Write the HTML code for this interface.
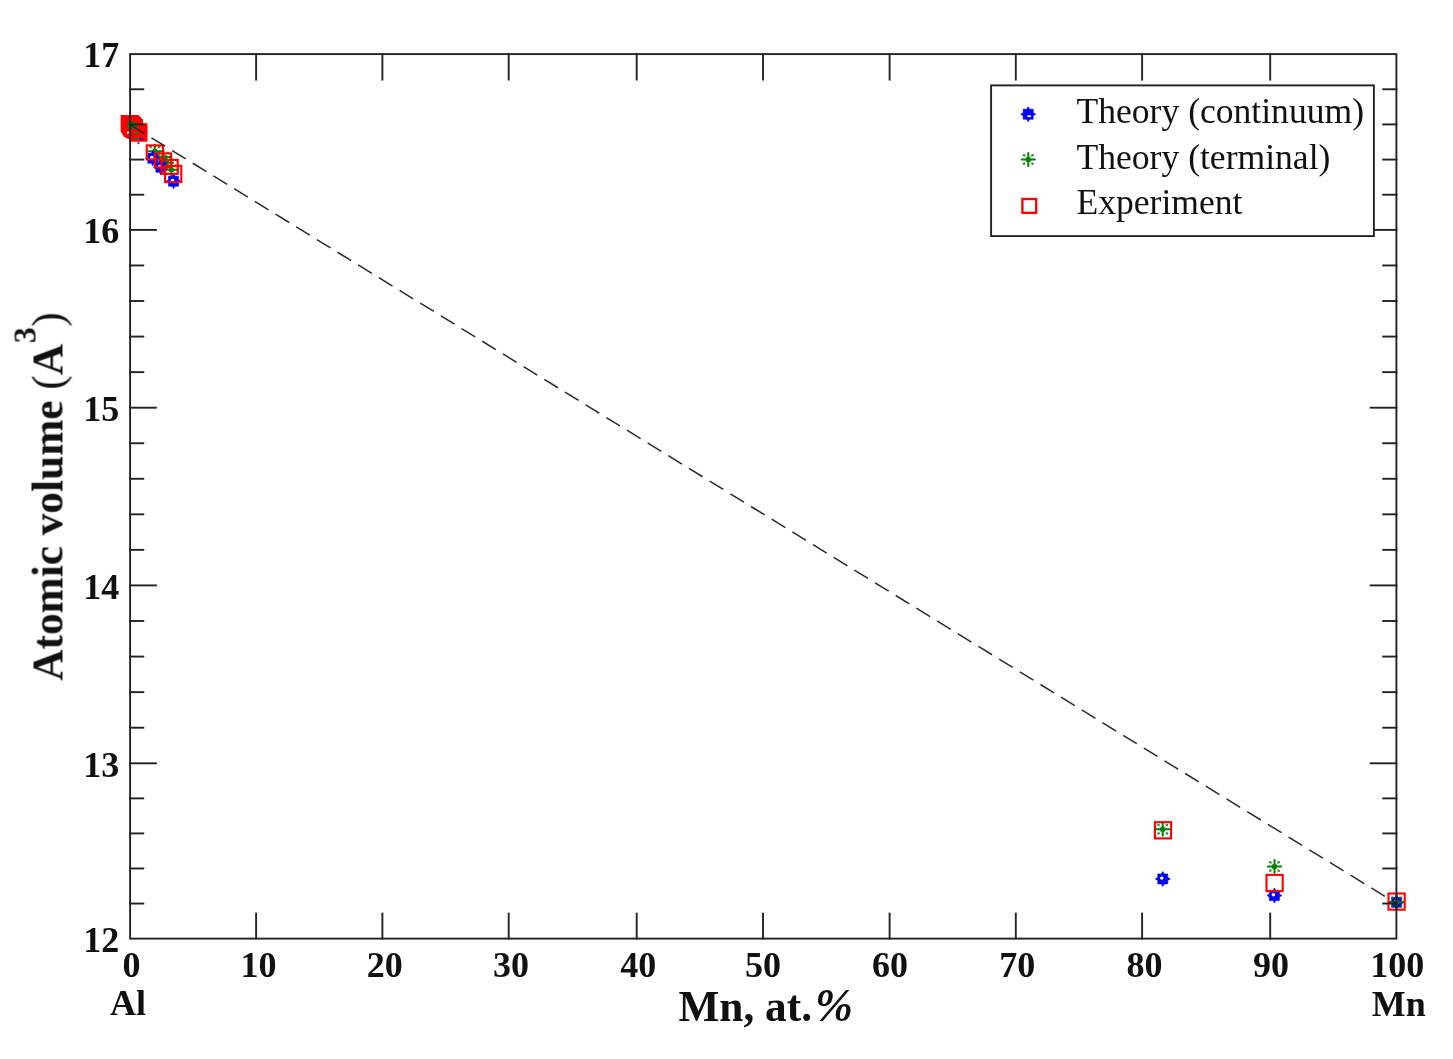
<!DOCTYPE html><html><head><meta charset="utf-8"><style>html,body{margin:0;padding:0;background:#fff;overflow:hidden}svg{display:block}text{font-family:"Liberation Serif",serif;fill:#111}</style></head><body>
<svg width="1453" height="1059" viewBox="0 0 1453 1059">
<defs><filter id="bl" filterUnits="userSpaceOnUse" x="0" y="0" width="1453" height="1059" color-interpolation-filters="sRGB"><feGaussianBlur stdDeviation="0.5"/></filter></defs>
<rect width="1453" height="1059" fill="#fff"/>
<g filter="url(#bl)">
<g stroke="#008000" stroke-width="2.0" stroke-linecap="round"><line x1="148.20" y1="151.30" x2="161.40" y2="151.30"/><line x1="154.80" y1="144.70" x2="154.80" y2="157.90"/></g><g stroke="#008000" stroke-width="0.7" opacity="0.6"><line x1="150.55" y1="147.05" x2="159.05" y2="155.55"/><line x1="150.55" y1="155.55" x2="159.05" y2="147.05"/></g><g fill="#008000" opacity="0.8"><circle cx="150.55" cy="147.05" r="1.3"/><circle cx="150.55" cy="155.55" r="1.3"/><circle cx="159.05" cy="147.05" r="1.3"/><circle cx="159.05" cy="155.55" r="1.3"/></g><circle cx="154.80" cy="151.30" r="2.6" fill="#008000"/>
<g stroke="#008000" stroke-width="2.0" stroke-linecap="round"><line x1="156.90" y1="157.00" x2="170.10" y2="157.00"/><line x1="163.50" y1="150.40" x2="163.50" y2="163.60"/></g><g stroke="#008000" stroke-width="0.7" opacity="0.6"><line x1="159.25" y1="152.75" x2="167.75" y2="161.25"/><line x1="159.25" y1="161.25" x2="167.75" y2="152.75"/></g><g fill="#008000" opacity="0.8"><circle cx="159.25" cy="152.75" r="1.3"/><circle cx="159.25" cy="161.25" r="1.3"/><circle cx="167.75" cy="152.75" r="1.3"/><circle cx="167.75" cy="161.25" r="1.3"/></g><circle cx="163.50" cy="157.00" r="2.6" fill="#008000"/>
<g stroke="#008000" stroke-width="2.0" stroke-linecap="round"><line x1="159.90" y1="162.80" x2="173.10" y2="162.80"/><line x1="166.50" y1="156.20" x2="166.50" y2="169.40"/></g><g stroke="#008000" stroke-width="0.7" opacity="0.6"><line x1="162.25" y1="158.55" x2="170.75" y2="167.05"/><line x1="162.25" y1="167.05" x2="170.75" y2="158.55"/></g><g fill="#008000" opacity="0.8"><circle cx="162.25" cy="158.55" r="1.3"/><circle cx="162.25" cy="167.05" r="1.3"/><circle cx="170.75" cy="158.55" r="1.3"/><circle cx="170.75" cy="167.05" r="1.3"/></g><circle cx="166.50" cy="162.80" r="2.6" fill="#008000"/>
<g stroke="#008000" stroke-width="2.0" stroke-linecap="round"><line x1="164.90" y1="169.80" x2="178.10" y2="169.80"/><line x1="171.50" y1="163.20" x2="171.50" y2="176.40"/></g><g stroke="#008000" stroke-width="0.7" opacity="0.6"><line x1="167.25" y1="165.55" x2="175.75" y2="174.05"/><line x1="167.25" y1="174.05" x2="175.75" y2="165.55"/></g><g fill="#008000" opacity="0.8"><circle cx="167.25" cy="165.55" r="1.3"/><circle cx="167.25" cy="174.05" r="1.3"/><circle cx="175.75" cy="165.55" r="1.3"/><circle cx="175.75" cy="174.05" r="1.3"/></g><circle cx="171.50" cy="169.80" r="2.6" fill="#008000"/>
<g stroke="#008000" stroke-width="2.0" stroke-linecap="round"><line x1="1156.10" y1="829.20" x2="1169.30" y2="829.20"/><line x1="1162.70" y1="822.60" x2="1162.70" y2="835.80"/></g><g stroke="#008000" stroke-width="0.7" opacity="0.6"><line x1="1158.45" y1="824.95" x2="1166.95" y2="833.45"/><line x1="1158.45" y1="833.45" x2="1166.95" y2="824.95"/></g><g fill="#008000" opacity="0.8"><circle cx="1158.45" cy="824.95" r="1.3"/><circle cx="1158.45" cy="833.45" r="1.3"/><circle cx="1166.95" cy="824.95" r="1.3"/><circle cx="1166.95" cy="833.45" r="1.3"/></g><circle cx="1162.70" cy="829.20" r="2.6" fill="#008000"/>
<g stroke="#008000" stroke-width="2.0" stroke-linecap="round"><line x1="1267.90" y1="866.50" x2="1281.10" y2="866.50"/><line x1="1274.50" y1="859.90" x2="1274.50" y2="873.10"/></g><g stroke="#008000" stroke-width="0.7" opacity="0.6"><line x1="1270.25" y1="862.25" x2="1278.75" y2="870.75"/><line x1="1270.25" y1="870.75" x2="1278.75" y2="862.25"/></g><g fill="#008000" opacity="0.8"><circle cx="1270.25" cy="862.25" r="1.3"/><circle cx="1270.25" cy="870.75" r="1.3"/><circle cx="1278.75" cy="862.25" r="1.3"/><circle cx="1278.75" cy="870.75" r="1.3"/></g><circle cx="1274.50" cy="866.50" r="2.6" fill="#008000"/>
<polygon points="147.80,153.30 151.30,153.30 152.80,150.80 154.30,153.30 157.80,153.30 157.80,156.80 160.30,158.30 157.80,159.80 157.80,163.30 154.30,163.30 152.80,165.80 151.30,163.30 147.80,163.30 147.80,159.80 145.30,158.30 147.80,156.80" fill="#0000ff" stroke="#0000ff" stroke-width="0.6" stroke-linejoin="round"/><ellipse cx="151.80" cy="157.50" rx="1.80" ry="1.70" fill="#fff"/>
<polygon points="155.80,162.20 159.30,162.20 160.80,159.70 162.30,162.20 165.80,162.20 165.80,165.70 168.30,167.20 165.80,168.70 165.80,172.20 162.30,172.20 160.80,174.70 159.30,172.20 155.80,172.20 155.80,168.70 153.30,167.20 155.80,165.70" fill="#0000ff" stroke="#0000ff" stroke-width="0.6" stroke-linejoin="round"/><ellipse cx="159.80" cy="166.40" rx="1.80" ry="1.70" fill="#fff"/>
<polygon points="168.50,176.20 172.00,176.20 173.50,173.70 175.00,176.20 178.50,176.20 178.50,179.70 181.00,181.20 178.50,182.70 178.50,186.20 175.00,186.20 173.50,188.70 172.00,186.20 168.50,186.20 168.50,182.70 166.00,181.20 168.50,179.70" fill="#0000ff" stroke="#0000ff" stroke-width="0.6" stroke-linejoin="round"/><ellipse cx="172.50" cy="180.40" rx="1.80" ry="1.70" fill="#fff"/>
<polygon points="1157.75,873.90 1161.25,873.90 1162.75,871.40 1164.25,873.90 1167.75,873.90 1167.75,877.40 1170.25,878.90 1167.75,880.40 1167.75,883.90 1164.25,883.90 1162.75,886.40 1161.25,883.90 1157.75,883.90 1157.75,880.40 1155.25,878.90 1157.75,877.40" fill="#0000ff" stroke="#0000ff" stroke-width="0.6" stroke-linejoin="round"/><ellipse cx="1161.75" cy="878.10" rx="1.80" ry="1.70" fill="#fff"/>
<polygon points="1269.40,890.50 1272.90,890.50 1274.40,888.00 1275.90,890.50 1279.40,890.50 1279.40,894.00 1281.90,895.50 1279.40,897.00 1279.40,900.50 1275.90,900.50 1274.40,903.00 1272.90,900.50 1269.40,900.50 1269.40,897.00 1266.90,895.50 1269.40,894.00" fill="#0000ff" stroke="#0000ff" stroke-width="0.6" stroke-linejoin="round"/><ellipse cx="1273.40" cy="894.70" rx="1.80" ry="1.70" fill="#fff"/>
<polygon points="1391.60,897.30 1395.10,897.30 1396.60,894.80 1398.10,897.30 1401.60,897.30 1401.60,900.80 1404.10,902.30 1401.60,903.80 1401.60,907.30 1398.10,907.30 1396.60,909.80 1395.10,907.30 1391.60,907.30 1391.60,903.80 1389.10,902.30 1391.60,900.80" fill="#0000ff" stroke="#0000ff" stroke-width="0.6" stroke-linejoin="round"/><ellipse cx="1395.60" cy="901.50" rx="1.80" ry="1.70" fill="#fff"/>
<g stroke="#008000" stroke-width="2.0" stroke-linecap="round"><line x1="1390.00" y1="902.00" x2="1403.20" y2="902.00"/><line x1="1396.60" y1="895.40" x2="1396.60" y2="908.60"/></g><g stroke="#008000" stroke-width="0.7" opacity="0.6"><line x1="1392.35" y1="897.75" x2="1400.85" y2="906.25"/><line x1="1392.35" y1="906.25" x2="1400.85" y2="897.75"/></g><g fill="#008000" opacity="0.8"><circle cx="1392.35" cy="897.75" r="1.3"/><circle cx="1392.35" cy="906.25" r="1.3"/><circle cx="1400.85" cy="897.75" r="1.3"/><circle cx="1400.85" cy="906.25" r="1.3"/></g><circle cx="1396.60" cy="902.00" r="2.6" fill="#008000"/>
<rect x="146.70" y="145.40" width="16.20" height="14.00" fill="none" stroke="#ff0000" stroke-width="2.1"/>
<rect x="154.95" y="153.40" width="16.20" height="14.00" fill="none" stroke="#ff0000" stroke-width="2.1"/>
<rect x="161.50" y="159.90" width="16.20" height="14.00" fill="none" stroke="#ff0000" stroke-width="2.1"/>
<rect x="165.10" y="165.90" width="16.20" height="16.20" fill="none" stroke="#ff0000" stroke-width="2.1"/>
<rect x="1154.90" y="822.20" width="16.20" height="16.20" fill="none" stroke="#ff0000" stroke-width="2.1"/>
<rect x="1266.50" y="874.90" width="16.20" height="16.20" fill="none" stroke="#ff0000" stroke-width="2.1"/>
<rect x="1388.50" y="893.50" width="16.20" height="16.20" fill="none" stroke="#ff0000" stroke-width="2.1"/>
<polygon points="120.7,114.9 138.3,114.9 143,119.6 143,123.2 147.5,123.2 147.5,141.7 129.5,141.7 129.5,139.5 124.4,137.2 122.6,134.5 120.7,131.2" fill="#ff0000"/>
<rect x="127.6" y="121.8" width="9.2" height="7.0" rx="1.6" fill="#0a7a0a"/>
<rect x="133.6" y="131.9" width="5.2" height="1.6" rx="0.8" fill="#2a7a10"/>
<rect x="133.6" y="138.3" width="5.6" height="1.6" rx="0.8" fill="#2a7a10"/>
<rect x="139.4" y="138.3" width="3.9" height="1.6" rx="0.8" fill="#3300e0"/>
<circle cx="127.9" cy="132.7" r="1.1" fill="#fff"/>
<circle cx="138.4" cy="143.2" r="1.1" fill="#3030ff"/>
<line x1="130.3" y1="124.8" x2="1396.6" y2="903.5" stroke="#2a2a2a" stroke-width="1.5" stroke-dasharray="16 8.27" stroke-dashoffset="-0.6"/>
<g stroke="#222222" stroke-width="1.9" fill="none" stroke-linecap="square"><rect x="130.1" y="54.1" width="1266.30" height="884.50"/><line x1="256.10" y1="938.6" x2="256.10" y2="913.6"/><line x1="256.10" y1="54.1" x2="256.10" y2="79.6"/><line x1="382.40" y1="938.6" x2="382.40" y2="913.6"/><line x1="382.40" y1="54.1" x2="382.40" y2="79.6"/><line x1="508.70" y1="938.6" x2="508.70" y2="913.6"/><line x1="508.70" y1="54.1" x2="508.70" y2="79.6"/><line x1="636.70" y1="938.6" x2="636.70" y2="913.6"/><line x1="636.70" y1="54.1" x2="636.70" y2="79.6"/><line x1="763.00" y1="938.6" x2="763.00" y2="913.6"/><line x1="763.00" y1="54.1" x2="763.00" y2="79.6"/><line x1="889.60" y1="938.6" x2="889.60" y2="913.6"/><line x1="889.60" y1="54.1" x2="889.60" y2="79.6"/><line x1="1015.80" y1="938.6" x2="1015.80" y2="913.6"/><line x1="1015.80" y1="54.1" x2="1015.80" y2="79.6"/><line x1="1142.10" y1="938.6" x2="1142.10" y2="913.6"/><line x1="1142.10" y1="54.1" x2="1142.10" y2="79.6"/><line x1="1270.20" y1="938.6" x2="1270.20" y2="913.6"/><line x1="1270.20" y1="54.1" x2="1270.20" y2="79.6"/><line x1="130.1" y1="903.54" x2="143.29999999999998" y2="903.54"/><line x1="1396.4" y1="903.54" x2="1383.2" y2="903.54"/><line x1="130.1" y1="868.48" x2="143.29999999999998" y2="868.48"/><line x1="1396.4" y1="868.48" x2="1383.2" y2="868.48"/><line x1="130.1" y1="833.42" x2="143.29999999999998" y2="833.42"/><line x1="1396.4" y1="833.42" x2="1383.2" y2="833.42"/><line x1="130.1" y1="798.36" x2="143.29999999999998" y2="798.36"/><line x1="1396.4" y1="798.36" x2="1383.2" y2="798.36"/><line x1="130.1" y1="763.30" x2="155.9" y2="763.30"/><line x1="1396.4" y1="763.30" x2="1370.6000000000001" y2="763.30"/><line x1="130.1" y1="727.72" x2="143.29999999999998" y2="727.72"/><line x1="1396.4" y1="727.72" x2="1383.2" y2="727.72"/><line x1="130.1" y1="692.14" x2="143.29999999999998" y2="692.14"/><line x1="1396.4" y1="692.14" x2="1383.2" y2="692.14"/><line x1="130.1" y1="656.56" x2="143.29999999999998" y2="656.56"/><line x1="1396.4" y1="656.56" x2="1383.2" y2="656.56"/><line x1="130.1" y1="620.98" x2="143.29999999999998" y2="620.98"/><line x1="1396.4" y1="620.98" x2="1383.2" y2="620.98"/><line x1="130.1" y1="585.40" x2="155.9" y2="585.40"/><line x1="1396.4" y1="585.40" x2="1370.6000000000001" y2="585.40"/><line x1="130.1" y1="549.86" x2="143.29999999999998" y2="549.86"/><line x1="1396.4" y1="549.86" x2="1383.2" y2="549.86"/><line x1="130.1" y1="514.32" x2="143.29999999999998" y2="514.32"/><line x1="1396.4" y1="514.32" x2="1383.2" y2="514.32"/><line x1="130.1" y1="478.78" x2="143.29999999999998" y2="478.78"/><line x1="1396.4" y1="478.78" x2="1383.2" y2="478.78"/><line x1="130.1" y1="443.24" x2="143.29999999999998" y2="443.24"/><line x1="1396.4" y1="443.24" x2="1383.2" y2="443.24"/><line x1="130.1" y1="407.70" x2="155.9" y2="407.70"/><line x1="1396.4" y1="407.70" x2="1370.6000000000001" y2="407.70"/><line x1="130.1" y1="372.14" x2="143.29999999999998" y2="372.14"/><line x1="1396.4" y1="372.14" x2="1383.2" y2="372.14"/><line x1="130.1" y1="336.58" x2="143.29999999999998" y2="336.58"/><line x1="1396.4" y1="336.58" x2="1383.2" y2="336.58"/><line x1="130.1" y1="301.02" x2="143.29999999999998" y2="301.02"/><line x1="1396.4" y1="301.02" x2="1383.2" y2="301.02"/><line x1="130.1" y1="265.46" x2="143.29999999999998" y2="265.46"/><line x1="1396.4" y1="265.46" x2="1383.2" y2="265.46"/><line x1="130.1" y1="229.90" x2="155.9" y2="229.90"/><line x1="1396.4" y1="229.90" x2="1370.6000000000001" y2="229.90"/><line x1="130.1" y1="194.74" x2="143.29999999999998" y2="194.74"/><line x1="1396.4" y1="194.74" x2="1383.2" y2="194.74"/><line x1="130.1" y1="159.58" x2="143.29999999999998" y2="159.58"/><line x1="1396.4" y1="159.58" x2="1383.2" y2="159.58"/><line x1="130.1" y1="124.42" x2="143.29999999999998" y2="124.42"/><line x1="1396.4" y1="124.42" x2="1383.2" y2="124.42"/><line x1="130.1" y1="89.26" x2="143.29999999999998" y2="89.26"/><line x1="1396.4" y1="89.26" x2="1383.2" y2="89.26"/></g>
<text x="119.3" y="951.80" font-size="36" font-weight="bold" text-anchor="end">12</text>
<text x="119.3" y="776.50" font-size="36" font-weight="bold" text-anchor="end">13</text>
<text x="119.3" y="598.60" font-size="36" font-weight="bold" text-anchor="end">14</text>
<text x="119.3" y="420.90" font-size="36" font-weight="bold" text-anchor="end">15</text>
<text x="119.3" y="243.10" font-size="36" font-weight="bold" text-anchor="end">16</text>
<text x="119.3" y="67.30" font-size="36" font-weight="bold" text-anchor="end">17</text>
<text x="131.40" y="976.6" font-size="36" font-weight="bold" text-anchor="middle">0</text>
<text x="258.40" y="976.6" font-size="36" font-weight="bold" text-anchor="middle">10</text>
<text x="384.70" y="976.6" font-size="36" font-weight="bold" text-anchor="middle">20</text>
<text x="511.00" y="976.6" font-size="36" font-weight="bold" text-anchor="middle">30</text>
<text x="638.20" y="976.6" font-size="36" font-weight="bold" text-anchor="middle">40</text>
<text x="763.10" y="976.6" font-size="36" font-weight="bold" text-anchor="middle">50</text>
<text x="889.90" y="976.6" font-size="36" font-weight="bold" text-anchor="middle">60</text>
<text x="1017.30" y="976.6" font-size="36" font-weight="bold" text-anchor="middle">70</text>
<text x="1144.50" y="976.6" font-size="36" font-weight="bold" text-anchor="middle">80</text>
<text x="1270.90" y="976.6" font-size="36" font-weight="bold" text-anchor="middle">90</text>
<text x="1397.20" y="976.6" font-size="36" font-weight="bold" text-anchor="middle">100</text>
<text x="128" y="1015" font-size="36" font-weight="bold" text-anchor="middle">Al</text>
<text x="1398.8" y="1015.7" font-size="36" font-weight="bold" text-anchor="middle">Mn</text>
<text x="678.5" y="1021" font-size="43.3" font-weight="bold">Mn, at.<tspan dx="3" font-style="italic" font-size="45.5">%</tspan></text>
<text transform="translate(62.5,680.7) rotate(-90)" x="0" y="0" font-size="43.3" font-weight="bold">Atomic volume <tspan font-weight="normal">(</tspan>A<tspan font-size="32" font-weight="bold" dx="0.8" dy="-27">3</tspan><tspan font-weight="normal" dx="0.5" dy="27">)</tspan></text>
<rect x="991.1" y="85.4" width="382.8" height="150.7" fill="#fff" stroke="#222222" stroke-width="1.9"/>
<polygon points="1023.20,109.20 1026.70,109.20 1028.20,106.70 1029.70,109.20 1033.20,109.20 1033.20,112.70 1035.70,114.20 1033.20,115.70 1033.20,119.20 1029.70,119.20 1028.20,121.70 1026.70,119.20 1023.20,119.20 1023.20,115.70 1020.70,114.20 1023.20,112.70" fill="#0000ff" stroke="#0000ff" stroke-width="0.6" stroke-linejoin="round"/><ellipse cx="1029.20" cy="116.30" rx="2.10" ry="1.00" fill="#fff"/>
<g stroke="#008000" stroke-width="2.0" stroke-linecap="round"><line x1="1021.70" y1="159.50" x2="1034.90" y2="159.50"/><line x1="1028.30" y1="152.90" x2="1028.30" y2="166.10"/></g><g stroke="#008000" stroke-width="0.7" opacity="0.6"><line x1="1024.05" y1="155.25" x2="1032.55" y2="163.75"/><line x1="1024.05" y1="163.75" x2="1032.55" y2="155.25"/></g><g fill="#008000" opacity="0.8"><circle cx="1024.05" cy="155.25" r="1.3"/><circle cx="1024.05" cy="163.75" r="1.3"/><circle cx="1032.55" cy="155.25" r="1.3"/><circle cx="1032.55" cy="163.75" r="1.3"/></g><circle cx="1028.30" cy="159.50" r="2.6" fill="#008000"/>
<rect x="1022.40" y="199.00" width="13.80" height="13.80" fill="none" stroke="#ff0000" stroke-width="2.3"/>
<text x="1076.5" y="122.80" font-size="35.6" fill="#1e1e1e">Theory (continuum)</text>
<text x="1076.5" y="168.90" font-size="35.6" fill="#1e1e1e">Theory (terminal)</text>
<text x="1076.5" y="213.90" font-size="35.6" fill="#1e1e1e">Experiment</text>
</g>
</svg></body></html>
